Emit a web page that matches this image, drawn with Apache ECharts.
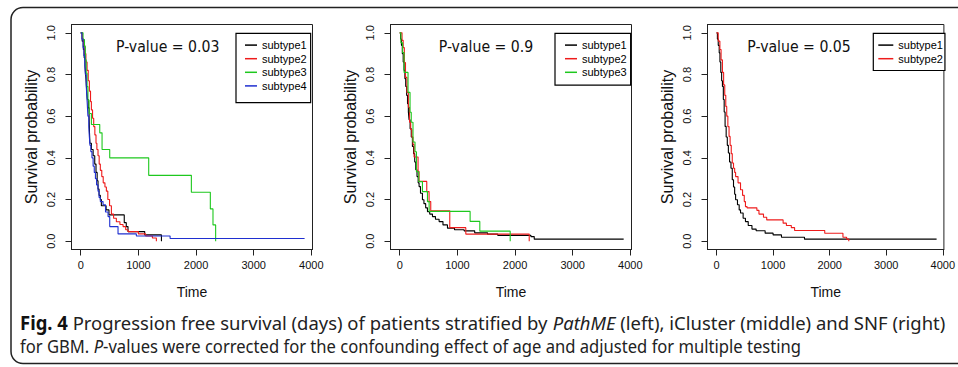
<!DOCTYPE html>
<html><head><meta charset="utf-8">
<script src="https://cdn.jsdelivr.net/npm/echarts@6/dist/echarts.min.js"></script>
<style>html,body{margin:0;padding:0;background:#fff}#c{width:958px;height:367px}</style>
</head><body><div id="c"></div>
<script>
// ---------- data ----------
const timeTicks = [0, 1000, 2000, 3000, 4000];
const probTicks = [0, 0.2, 0.4, 0.6, 0.8, 1.0];
const subtypeNames = ['subtype1', 'subtype2', 'subtype3', 'subtype4'];
const pValues = ['0.03', '0.9', '0.05'];

// PathME (left)
const pathmeS1 = [[0,1],[25,0.96],[45,0.92],[60,0.88],[75,0.84],[85,0.8],[95,0.76],[105,0.72],[115,0.68],[130,0.64],[145,0.6],[152,0.52],[160,0.47],[185,0.44],[215,0.41],[243,0.37],[265,0.33],[285,0.29],[300,0.25],[318,0.22],[340,0.2],[358,0.17],[440,0.15],[490,0.126],[755,0.089],[790,0.07],[820,0.046],[1110,0.03],[1400,0]];
const pathmeS2 = [[0,1],[30,0.97],[50,0.94],[70,0.9],[90,0.86],[110,0.82],[130,0.77],[150,0.72],[170,0.67],[185,0.63],[205,0.59],[225,0.55],[245,0.51],[265,0.47],[280,0.44],[300,0.41],[320,0.37],[340,0.34],[365,0.31],[390,0.28],[420,0.26],[445,0.24],[470,0.2],[500,0.17],[532,0.13],[570,0.11],[618,0.093],[680,0.08],[734,0.07],[780,0.055],[820,0.046],[1000,0.035],[1127,0.025],[1243,0.015],[1312,0]];
const pathmeS3 = [[0,1],[40,0.968],[65,0.935],[80,0.87],[95,0.806],[110,0.742],[125,0.677],[145,0.613],[185,0.56],[330,0.52],[370,0.44],[503,0.4],[1179,0.316],[1919,0.235],[2248,0.155],[2294,0.078],[2340,0]];
const pathmeS4 = [[0,1],[20,0.97],[40,0.93],[55,0.89],[70,0.85],[80,0.8],[95,0.75],[105,0.7],[115,0.65],[125,0.6],[140,0.55],[150,0.5],[160,0.46],[175,0.43],[195,0.4],[215,0.36],[235,0.33],[255,0.3],[275,0.27],[300,0.24],[318,0.21],[340,0.19],[387,0.175],[430,0.14],[474,0.118],[503,0.07],[647,0.035],[965,0.025],[1550,0.0125],[3883,0.0125]];

// iCluster (middle)
const iclusterS1 = [[0,1],[15,0.97],[30,0.94],[45,0.9],[60,0.86],[75,0.82],[90,0.78],[104,0.743],[120,0.7],[135,0.66],[150,0.62],[162,0.583],[180,0.54],[200,0.5],[220,0.455],[240,0.42],[260,0.38],[278,0.343],[300,0.31],[320,0.28],[336,0.262],[360,0.23],[394,0.199],[420,0.18],[450,0.16],[481,0.142],[520,0.13],[568,0.118],[620,0.105],[683,0.094],[750,0.078],[828,0.0625],[950,0.055],[1117,0.0495],[1300,0.04],[1523,0.0337],[1700,0.028],[2275,0.022],[2333,0.0096],[3884,0.0096]];
const iclusterS2 = [[0,1],[40,0.964],[60,0.929],[80,0.857],[100,0.786],[125,0.714],[150,0.643],[170,0.571],[190,0.536],[210,0.5],[230,0.464],[249,0.404],[318,0.335],[335,0.287],[469,0.238],[509,0.19],[538,0.146],[868,0.065],[1146,0.034],[2246,0]];
const iclusterS3 = [[0,1],[20,0.952],[50,0.905],[75,0.81],[144,0.714],[179,0.619],[200,0.571],[230,0.476],[265,0.429],[290,0.333],[330,0.286],[394,0.238],[481,0.19],[510,0.143],[1221,0.095],[1389,0.048],[1916,0]];

// SNF (right)
const snfS1 = [[0,1],[15,0.97],[30,0.94],[47,0.904],[60,0.86],[75,0.81],[90,0.77],[104,0.743],[120,0.68],[135,0.62],[151,0.551],[170,0.5],[190,0.46],[209,0.423],[230,0.38],[255,0.35],[278,0.295],[300,0.26],[320,0.225],[337,0.199],[370,0.175],[400,0.15],[424,0.135],[470,0.11],[511,0.094],[560,0.075],[626,0.058],[700,0.05],[859,0.0385],[1000,0.03],[1148,0.019],[1555,0.0096],[3891,0.0096]];
const snfS2 = [[0,1],[30,0.96],[59,0.92],[80,0.87],[104,0.81],[125,0.75],[145,0.7],[163,0.647],[180,0.6],[200,0.55],[221,0.503],[240,0.46],[260,0.42],[278,0.375],[300,0.35],[320,0.33],[337,0.31],[380,0.28],[424,0.247],[460,0.22],[490,0.19],[511,0.166],[539,0.16],[713,0.148],[750,0.13],[830,0.115],[887,0.102],[1177,0.0865],[1235,0.075],[1322,0.065],[1380,0.051],[1913,0.038],[2235,0.019],[2300,0.01],[2338,0]];

const panelSeries = [
  [pathmeS1, pathmeS2, pathmeS3, pathmeS4],
  [iclusterS1, iclusterS2, iclusterS3],
  [snfS1, snfS2]
];

const captionLine1 = [['b','Fig. 4'],['n',' Progression free survival (days) of patients stratified by '],['i','PathME'],['n',' (left), iCluster (middle) and SNF (right)']];
const captionLine2 = [['n','for GBM. '],['i','P'],['n','-values were corrected for the confounding effect of age and adjusted for multiple testing']];

// ---------- styles / layout ----------
const colors = ['#000000', '#ee1c1c', '#1ec81e', '#1f2fd0'];
const axisFont = "'Liberation Sans', Arial, sans-serif";
const grids = [
  {left: 71.5, top: 24.5, width: 241, height: 225},
  {left: 390.5, top: 24.5, width: 241, height: 225},
  {left: 707.5, top: 24.5, width: 242, height: 225}
];
const legendPos = [
  {left: 236, top: 33.3, padding: [5, 4, 10, 9], itemWidth: 12},
  {left: 555, top: 33.3, padding: [5, 4, 6, 10], itemWidth: 12},
  {left: 873.3, top: 33.3, padding: [5, 2, 5, 5], itemWidth: 15}
];
const titlePos = [{x: 167.7, y: 46.7}, {x: 486, y: 46.7}, {x: 799, y: 46.7}];

const chart = echarts.init(document.getElementById('c'), null, {renderer: 'svg'});

const xAxes = [], yAxes = [], series = [], legends = [], graphics = [];
grids.forEach((g, i) => {
  xAxes.push({
    type: 'value', gridIndex: i, min: -160, max: 4020,
    axisLine: {show: true, onZero: false, lineStyle: {color: '#222', width: 1}},
    axisTick: {show: true, customValues: timeTicks, length: 6, lineStyle: {color: '#222', width: 1}},
    axisLabel: {customValues: timeTicks, margin: 10, formatter: v => String(v), fontFamily: axisFont, fontSize: 11, color: '#111'},
    splitLine: {show: false},
    name: 'Time', nameLocation: 'middle', nameGap: 35,
    nameTextStyle: {fontFamily: axisFont, fontSize: 14, color: '#111'}
  });
  yAxes.push({
    type: 'value', gridIndex: i, min: -0.04, max: 1.04,
    axisLine: {show: true, onZero: false, lineStyle: {color: '#222', width: 1}},
    axisTick: {show: true, customValues: probTicks, length: 6, lineStyle: {color: '#222', width: 1}},
    axisLabel: {customValues: probTicks, rotate: 90, margin: 15, formatter: v => v.toFixed(1), fontFamily: axisFont, fontSize: 11, color: '#111'},
    splitLine: {show: false},
    name: 'Survival probability', nameLocation: 'middle', nameGap: 32,
    nameTextStyle: {fontFamily: axisFont, fontSize: 16, color: '#111'}
  });
  const names = [];
  panelSeries[i].forEach((d, k) => {
    names.push(subtypeNames[k]);
    series.push({
      type: 'line', name: subtypeNames[k], xAxisIndex: i, yAxisIndex: i,
      data: d, step: 'end', showSymbol: false, symbol: 'none',
      lineStyle: {color: colors[k], width: 1.1}, itemStyle: {color: colors[k]},
      emphasis: {disabled: true}, silent: true, animation: false
    });
  });
  const lp = legendPos[i];
  legends.push({
    orient: 'vertical', left: lp.left, top: lp.top, padding: lp.padding,
    data: names, icon: 'rect', itemWidth: lp.itemWidth, itemHeight: 1.5, itemGap: 0,
    borderColor: '#000', borderWidth: 1.2, backgroundColor: '#fff', borderRadius: 0,
    selectedMode: false,
    textStyle: {fontFamily: axisFont, fontSize: 11, color: '#000', lineHeight: 13.6}
  });
  graphics.push({
    type: 'text', x: titlePos[i].x, y: titlePos[i].y, scaleX: 0.94, silent: true,
    style: {text: 'P-value = ' + pValues[i], fontFamily: "'DejaVu Sans', sans-serif", fontSize: 15, fill: '#111', align: 'center', verticalAlign: 'middle'}
  });
});

// caption
const capFamily = "'Noto Sans', sans-serif";
const capSize = 19;
const ctx = document.createElement('canvas').getContext('2d');
function fontOf(kind) {
  return (kind === 'i' ? 'italic ' : '') + (kind === 'b' ? 'bold ' : '') + capSize + 'px ' + capFamily;
}
function measure(parts) {
  let w = 0;
  parts.forEach(p => { ctx.font = fontOf(p[0]); w += ctx.measureText(p[1]).width; });
  return w;
}
function richText(parts) {
  return parts.map(p => p[0] === 'n' ? p[1] : '{' + p[0] + '|' + p[1] + '}').join('');
}
const richStyles = {
  b: {fontWeight: 'bold', fontFamily: capFamily, fontSize: capSize, fill: '#111'},
  i: {fontStyle: 'italic', fontFamily: capFamily, fontSize: capSize, fill: '#222'}
};
[[captionLine1, 322, 926], [captionLine2, 346, 782]].forEach(([parts, y, target]) => {
  graphics.push({
    type: 'text', x: 20, y: y, scaleX: target / measure(parts), silent: true,
    style: {text: richText(parts), fontFamily: capFamily, fontSize: capSize, fill: '#222', align: 'left', verticalAlign: 'middle', rich: richStyles}
  });
});
graphics.push({
  type: 'rect', silent: true, z: -1,
  shape: {x: 11, y: 7.5, width: 1000, height: 356, r: 12},
  style: {fill: null, stroke: '#222', lineWidth: 1.5}
});

chart.setOption({
  animation: false,
  backgroundColor: '#fff',
  grid: grids.map(g => Object.assign({show: true, borderColor: '#222', borderWidth: 1, backgroundColor: 'transparent'}, g)),
  xAxis: xAxes,
  yAxis: yAxes,
  legend: legends,
  series: series,
  graphic: graphics
});
</script>
</body></html>
